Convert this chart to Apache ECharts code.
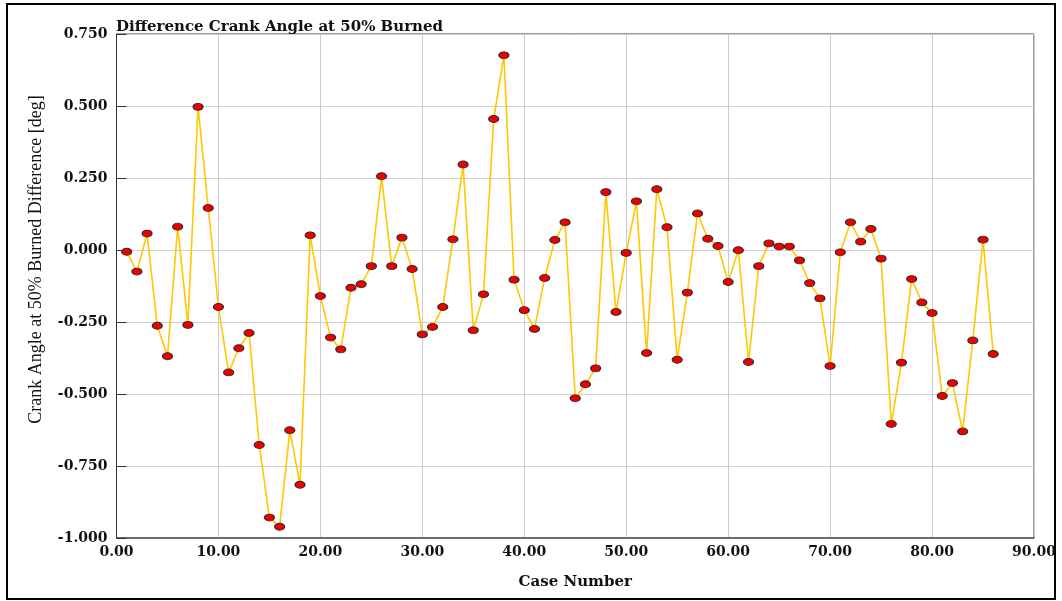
<!DOCTYPE html>
<html>
<head>
<meta charset="utf-8">
<title>Difference Crank Angle at 50% Burned</title>
<script src="https://cdn.jsdelivr.net/npm/echarts@6/dist/echarts.min.js"></script>
<style>
  html, body { margin: 0; padding: 0; background: #ffffff; }
  #chart { width: 1062px; height: 601px; }
</style>
</head>
<body>
<div id="chart"></div>
<script>
// Case numbers along the x axis
const caseNumbers = [
  1, 2, 3, 4, 5, 6, 7, 8, 9, 10,
  11, 12, 13, 14, 15, 16, 17, 18, 19, 20,
  21, 22, 23, 24, 25, 26, 27, 28, 29, 30,
  31, 32, 33, 34, 35, 36, 37, 38, 39, 40,
  41, 42, 43, 44, 45, 46, 47, 48, 49, 50,
  51, 52, 53, 54, 55, 56, 57, 58, 59, 60,
  61, 62, 63, 64, 65, 66, 67, 68, 69, 70,
  71, 72, 73, 74, 75, 76, 77, 78, 79, 80,
  81, 82, 83, 84, 85, 86
];

// Crank angle difference at 50% burned [deg], one value per case
const angleDiff = [
  -0.006, -0.075, 0.057, -0.263, -0.369, 0.081, -0.260, 0.497, 0.146, -0.198,
  -0.425, -0.341, -0.288, -0.677, -0.929, -0.961, -0.626, -0.815, 0.051, -0.160,
  -0.304, -0.345, -0.131, -0.119, -0.056, 0.256, -0.056, 0.043, -0.066, -0.293,
  -0.267, -0.198, 0.037, 0.297, -0.279, -0.154, 0.455, 0.676, -0.103, -0.209,
  -0.274, -0.097, 0.035, 0.096, -0.515, -0.466, -0.411, 0.201, -0.215, -0.010,
  0.169, -0.358, 0.211, 0.079, -0.381, -0.148, 0.127, 0.039, 0.014, -0.111,
  -0.001, -0.389, -0.056, 0.023, 0.012, 0.012, -0.036, -0.115, -0.168, -0.403,
  -0.008, 0.096, 0.029, 0.073, -0.030, -0.604, -0.391, -0.101, -0.182, -0.219,
  -0.507, -0.462, -0.630, -0.314, 0.036, -0.361
];

const chartTitle = 'Difference Crank Angle at 50% Burned';
const xAxisTitle = 'Case Number';
const yAxisTitle = 'Crank Angle at 50% Burned Difference [deg]';

const points = caseNumbers.map((c, i) => [c, angleDiff[i]]);

const serifWide = 'DejaVu Serif';
const serifNarrow = 'Liberation Serif';

const chart = echarts.init(document.getElementById('chart'), null, { renderer: 'canvas' });

chart.setOption({
  backgroundColor: '#ffffff',
  animation: false,
  title: {
    text: chartTitle,
    left: 116,
    top: 20,
    padding: 0,
    textStyle: {
      fontFamily: serifWide,
      fontSize: 15,
      fontWeight: 'bold',
      color: '#111111'
    }
  },
  grid: {
    left: 116.5,
    right: 28,
    top: 34,
    bottom: 63,
    show: true,
    borderColor: '#333333',
    borderWidth: 1,
    backgroundColor: 'transparent'
  },
  xAxis: {
    type: 'value',
    min: 0,
    max: 90,
    interval: 10,
    name: xAxisTitle,
    nameLocation: 'middle',
    nameGap: 37,
    nameTextStyle: {
      fontFamily: serifWide,
      fontSize: 15,
      fontWeight: 'bold',
      color: '#111111'
    },
    axisLine: { show: true, onZero: false, lineStyle: { color: '#555555', width: 1.5 } },
    axisTick: { show: false },
    axisLabel: {
      margin: 7,
      fontFamily: serifWide,
      fontSize: 14,
      fontWeight: 'bold',
      color: '#111111',
      formatter: v => v.toFixed(2)
    },
    splitLine: { show: true, lineStyle: { color: '#cccccc', width: 1 } }
  },
  yAxis: {
    type: 'value',
    min: -1,
    max: 0.75,
    interval: 0.25,
    axisLine: { show: true, onZero: false, lineStyle: { color: '#333333', width: 1 } },
    axisTick: { show: true, inside: true, length: 10, lineStyle: { color: '#333333', width: 1 } },
    axisLabel: {
      margin: 9,
      fontFamily: serifWide,
      fontSize: 14,
      fontWeight: 'bold',
      color: '#111111',
      formatter: v => v.toFixed(3)
    },
    splitLine: { show: true, lineStyle: { color: '#d0d0d0', width: 1 } }
  },
  series: [{
    type: 'line',
    data: points,
    showSymbol: true,
    symbol: 'circle',
    symbolSize: [10, 7],
    lineStyle: { color: '#ffc800', width: 1.6 },
    itemStyle: { color: '#ee0000', borderColor: '#2a2a2a', borderWidth: 1 },
    z: 3
  }],
  graphic: [
    {
      type: 'text',
      x: 36,
      y: 259.5,
      rotation: Math.PI / 2,
      style: {
        text: yAxisTitle,
        fontFamily: serifNarrow,
        fontSize: 18,
        fill: '#111111',
        textAlign: 'center',
        textVerticalAlign: 'middle'
      }
    },
    {
      type: 'rect',
      shape: { x: 7, y: 4, width: 1048, height: 595 },
      style: { fill: 'none', stroke: '#000000', lineWidth: 2 },
      silent: true
    }
  ]
});
</script>
</body>
</html>
